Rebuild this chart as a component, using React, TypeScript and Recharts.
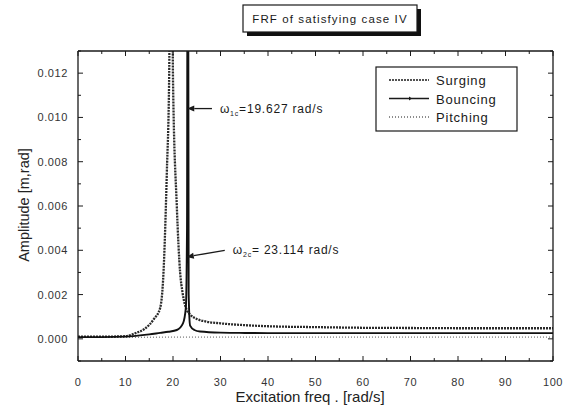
import React from "react";
import {
  LineChart,
  Line,
  XAxis,
  YAxis,
  ReferenceLine,
} from "recharts";

// Surging response (broad peak at the first coupled mode)
const surgingFreq = [0, 5, 10, 12, 14, 16, 17.3, 18, 18.7, 19.2, 19.627, 20, 20.8, 21.5, 22, 22.9, 23.6, 25, 27, 30, 35, 40, 50, 60, 70, 80, 90, 100];
const surgingAmp = [0.0001, 0.0001, 0.00012, 0.00025, 0.00045, 0.0009, 0.0014, 0.003, 0.0075, 0.012, 0.03, 0.0117, 0.006, 0.003, 0.0021, 0.0013, 0.0011, 0.0009, 0.00078, 0.0007, 0.00062, 0.00057, 0.00053, 0.0005, 0.00049, 0.00048, 0.00048, 0.00048];

// Bouncing response (sharp peak at the second coupled mode)
const bouncingFreq = [0, 5, 10, 15, 17.3, 19, 20.8, 22.1, 22.7, 22.95, 23.114, 23.3, 23.6, 24.5, 25.7, 30, 34, 40, 50, 60, 70, 80, 90, 100];
const bouncingAmp = [0.00008, 0.00008, 0.0001, 0.0002, 0.00027, 0.00032, 0.0004, 0.0007, 0.0014, 0.005, 0.03, 0.002, 0.0006, 0.0004, 0.00033, 0.00028, 0.00027, 0.00026, 0.00026, 0.00026, 0.00026, 0.00026, 0.00026, 0.00026];

// Pitching response (practically flat)
const pitchingFreq = [0, 10, 20, 30, 40, 50, 60, 70, 80, 90, 100];
const pitchingAmp = [0.00007, 0.00007, 0.00008, 0.00008, 0.00008, 0.00008, 0.00008, 0.00008, 0.00008, 0.00008, 0.00008];

const xTicks = [0, 5, 10, 15, 20, 25, 30, 35, 40, 45, 50, 55, 60, 65, 70, 75, 80, 85, 90, 95, 100];
const yTicks = [-0.001, 0, 0.001, 0.002, 0.003, 0.004, 0.005, 0.006, 0.007, 0.008, 0.009, 0.01, 0.011, 0.012, 0.013];

const zip = (f: number[], a: number[]) => f.map((x, i) => ({ f: x, a: a[i] }));
const surging = zip(surgingFreq, surgingAmp);
const bouncing = zip(bouncingFreq, bouncingAmp);
const pitching = zip(pitchingFreq, pitchingAmp);

const FONT = "'Liberation Sans', Arial, sans-serif";
const INK = "#1a1a1a";

const isMajorY = (v: number) => v >= 0 && Math.round(v * 1000) % 2 === 0;
const isMajorX = (v: number) => v % 10 === 0;

function LeftTick({ x, y, payload }: any) {
  const v = payload.value;
  const major = isMajorY(v);
  return (
    <g>
      <line x1={x + 10} x2={x + 10 + (major ? 5 : 3)} y1={y} y2={y} stroke={INK} />
      {major && (
        <text x={x} y={y + 4} textAnchor="end" fontSize={11} fill="#333" fontFamily={FONT} letterSpacing={0.6}>
          {v.toFixed(3)}
        </text>
      )}
    </g>
  );
}

function RightTick({ x, y, payload }: any) {
  const major = isMajorY(payload.value);
  return <line x1={x} x2={x - (major ? 5 : 3)} y1={y} y2={y} stroke={INK} />;
}

function BottomTick({ x, y, payload }: any) {
  const v = payload.value;
  const major = isMajorX(v);
  return (
    <g>
      <line x1={x} x2={x} y1={y} y2={y - (major ? 5 : 3)} stroke={INK} />
      {major && (
        <text x={x} y={y + 25} textAnchor="middle" fontSize={11} fill="#333" fontFamily={FONT} letterSpacing={0.6}>
          {v}
        </text>
      )}
    </g>
  );
}

function TopTick({ x, y, payload }: any) {
  const major = isMajorX(payload.value);
  return <line x1={x} x2={x} y1={y} y2={y + (major ? 5 : 3)} stroke={INK} />;
}

function arrowShape(sub: string, value: string) {
  return (props: any) => {
    const { x1, y1, x2, y2 } = props;
    const dx = x2 - x1;
    const dy = y2 - y1;
    const len = Math.sqrt(dx * dx + dy * dy) || 1;
    const ux = dx / len;
    const uy = dy / len;
    const hl = 7;
    const hw = 3;
    const bx = x1 + ux * hl;
    const by = y1 + uy * hl;
    return (
      <g>
        <line x1={bx} y1={by} x2={x2} y2={y2} stroke={INK} strokeWidth={1.3} />
        <polygon
          points={`${x1},${y1} ${bx - uy * hw},${by + ux * hw} ${bx + uy * hw},${by - ux * hw}`}
          fill={INK}
        />
        <text x={x2 + 8} y={y2 + 4} fontSize={12} fill={INK} fontFamily={FONT} letterSpacing={0.8}>
          ω
          <tspan fontSize={7} dy={3}>{sub}</tspan>
          <tspan dy={-3}>{value}</tspan>
        </text>
      </g>
    );
  };
}

const legendItems = [
  { name: "Surging", dash: "2 1", width: 1.6, marker: false },
  { name: "Bouncing", dash: undefined, width: 1.3, marker: true },
  { name: "Pitching", dash: "1 2", width: 1, marker: false },
];

export default function App() {
  return (
    <div style={{ position: "absolute", left: 0, top: 0, width: 572, height: 413, background: "#fff" }}>
      <LineChart
        width={572}
        height={413}
        margin={{ top: 50, right: 18, bottom: 22, left: 18 }}
      >
        <XAxis
          dataKey="f"
          type="number"
          domain={[0, 100]}
          ticks={xTicks}
          interval={0}
          allowDataOverflow
          height={30}
          tickSize={0}
          tickMargin={0}
          tick={BottomTick}
          tickLine={false}
          axisLine={{ stroke: INK, strokeWidth: 1.3 }}
        />
        <XAxis
          xAxisId="top"
          orientation="top"
          dataKey="f"
          type="number"
          domain={[0, 100]}
          ticks={xTicks}
          interval={0}
          allowDataOverflow
          height={1}
          tickSize={0}
          tickMargin={0}
          tick={TopTick}
          tickLine={false}
          axisLine={{ stroke: INK, strokeWidth: 1.3 }}
        />
        <YAxis
          type="number"
          domain={[-0.001, 0.013]}
          ticks={yTicks}
          interval={0}
          allowDataOverflow
          width={60}
          tickSize={0}
          tickMargin={10}
          tick={LeftTick}
          tickLine={false}
          axisLine={{ stroke: INK, strokeWidth: 1.3 }}
        />
        <YAxis
          yAxisId="right"
          orientation="right"
          type="number"
          domain={[-0.001, 0.013]}
          ticks={yTicks}
          interval={0}
          allowDataOverflow
          width={1}
          tickSize={0}
          tickMargin={0}
          tick={RightTick}
          tickLine={false}
          axisLine={{ stroke: INK, strokeWidth: 1.3 }}
        />
        <Line
          data={pitching}
          dataKey="a"
          type="linear"
          stroke="#555"
          strokeWidth={1}
          strokeDasharray="1 2"
          dot={false}
          isAnimationActive={false}
        />
        <Line
          data={surging}
          dataKey="a"
          type="monotone"
          stroke="#2a2a2a"
          strokeWidth={2.3}
          strokeDasharray="2 1"
          dot={false}
          isAnimationActive={false}
        />
        <Line
          data={bouncing}
          dataKey="a"
          type="monotone"
          stroke="#111"
          strokeWidth={1.9}
          dot={false}
          isAnimationActive={false}
        />
        <ReferenceLine
          segment={[{ x: 23.0, y: 0.0104 }, { x: 28.2, y: 0.0104 }]}
          shape={arrowShape("1c", "=19.627 rad/s")}
        />
        <ReferenceLine
          segment={[{ x: 22.9, y: 0.0037 }, { x: 30.9, y: 0.004 }]}
          shape={arrowShape("2c", "= 23.114 rad/s")}
        />
      </LineChart>

      <svg width={572} height={413} style={{ position: "absolute", left: 0, top: 0, pointerEvents: "none" }}>
        {/* title box with drop shadow */}
        <rect x={247} y={9} width={174} height={27} fill="#111" />
        <rect x={243} y={5} width={174} height={27} fill="#fff" stroke={INK} strokeWidth={1.2} />
        <text x={330} y={23} textAnchor="middle" fontSize={11.5} fill={INK} fontFamily={FONT} letterSpacing={1.1}>
          FRF of satisfying case IV
        </text>

        {/* legend */}
        <rect x={376} y={67} width={141} height={64} fill="#fff" stroke={INK} strokeWidth={1.2} />
        {legendItems.map((it, i) => {
          const cy = 80 + i * 18.5;
          return (
            <g key={it.name}>
              <line x1={389} x2={429} y1={cy} y2={cy} stroke={INK} strokeWidth={it.width} strokeDasharray={it.dash} />
              {it.marker && <polygon points={`${409},${cy - 2} ${412},${cy} ${409},${cy + 2}`} fill={INK} />}
              <text x={436} y={cy + 5} fontSize={13} fill={INK} fontFamily={FONT} letterSpacing={0.8}>
                {it.name}
              </text>
            </g>
          );
        })}

        {/* axis titles */}
        <text x={310} y={402} textAnchor="middle" fontSize={15} fill="#222" fontFamily={FONT}>
          Excitation freq . [rad/s]
        </text>
        <text
          x={25}
          y={205}
          textAnchor="middle"
          fontSize={14.5}
          fill="#222"
          fontFamily={FONT}
          transform="rotate(-90 25 205)"
          dominantBaseline="middle"
        >
          Amplitude [m,rad]
        </text>
      </svg>
    </div>
  );
}
